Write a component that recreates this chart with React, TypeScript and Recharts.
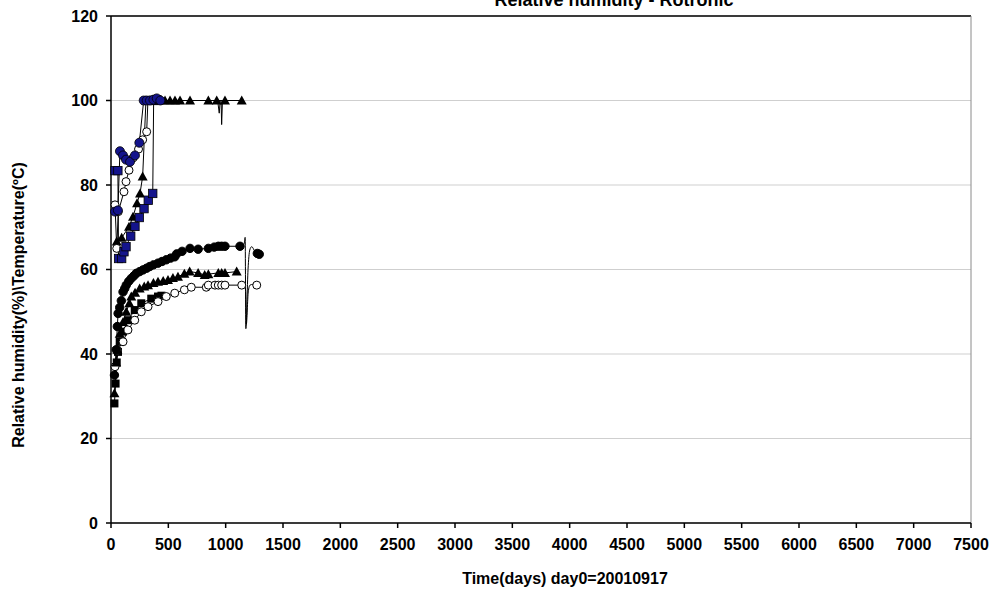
import { CartesianGrid, Line, LineChart, ReferenceLine, XAxis, YAxis } from 'recharts';

type Pt = [number, number];

const FONT = "'Liberation Sans', Arial, sans-serif";
const NAVY = '#14148c';

const X_TICKS = [0, 500, 1000, 1500, 2000, 2500, 3000, 3500, 4000, 4500, 5000, 5500, 6000, 6500, 7000, 7500];
const Y_TICKS = [0, 20, 40, 60, 80, 100, 120];

// relative humidity sensors (days, %)
const rhBlueSquare: Pt[] = [
  [35, 83.4], [60, 83.4], [66, 62.6], [93, 62.6], [113, 64.2], [131, 65.4], [172, 67.9],
  [209, 70.2], [247, 72.3], [288, 74.4], [325, 76.4], [364, 78], [372, 100], [400, 100.2],
];
const rhBlueCircle: Pt[] = [
  [35, 73.7], [60, 74], [78, 88], [105, 87], [131, 86], [166, 85.5], [209, 87], [247, 90],
  [285, 100], [311, 100], [340, 100], [370, 100.2], [399, 100.5], [430, 100],
];
const rhOpenCircle: Pt[] = [
  [35, 75.3], [50, 65], [64, 73.7], [113, 78.4], [131, 80.8], [157, 83.5], [192, 86.4],
  [240, 88.5], [276, 90.7], [311, 92.6], [322, 100], [350, 100], [400, 100],
];
const rhTriangle: Pt[] = [
  [50, 66.6], [93, 67.5], [157, 70.1], [192, 72.5], [227, 75.7], [253, 78], [276, 82],
  [305, 100], [340, 100], [375, 100], [427, 100], [471, 100], [515, 100], [558, 100],
  [602, 100], [689, 100], [849, 100], [922, 100], [994, 100], [1140, 100],
];
const rhTriangleDip: Pt[] = [[930, 100], [944, 97], [952, 100], [960, 100], [965, 94.3], [972, 100]];

// temperature sensors (days, degC)
const tCircle: Pt[] = [
  [30, 35], [45, 41], [55, 46.5], [62, 49.6], [76, 51], [90, 52.6], [105, 54.7], [120, 55.5],
  [133, 56.3], [155, 57.2], [177, 57.9], [200, 58.5], [221, 59.1], [250, 59.5], [279, 59.9],
  [310, 60.3], [338, 60.7], [370, 61.1], [410, 61.5], [445, 61.9], [482, 62.3], [520, 62.7],
  [556, 63], [573, 63.7], [620, 64.3], [689, 65], [760, 64.8], [849, 65], [900, 65.3],
  [936, 65.5], [965, 65.5], [994, 65.5], [1125, 65.5],
];
const tCircleTail: Pt[] = [
  [1125, 65.5], [1160, 66], [1170, 67.6], [1176, 46], [1195, 60], [1210, 64.6], [1227, 65.4],
  [1255, 64.3], [1276, 63.8], [1293, 63.6],
];
const tTriangle: Pt[] = [
  [30, 30.7], [45, 38], [55, 41], [76, 44.8], [105, 47.6], [133, 50], [160, 52], [177, 53.6],
  [210, 54.5], [250, 55.5], [290, 56], [323, 56.3], [370, 56.8], [410, 57.1], [455, 57.3],
  [497, 57.5], [540, 58], [584, 58.3], [640, 59], [686, 59.5], [760, 59.2], [817, 58.7],
  [849, 58.9], [936, 59.2], [965, 59.2], [994, 59.2], [1096, 59.5],
];
const tSquare: Pt[] = [
  [30, 28.3], [40, 33], [50, 38], [61, 40.5], [76, 42.9], [105, 45.3], [148, 48], [207, 50.4],
  [264, 52], [351, 53.1], [410, 53.6], [440, 53.8],
];
const tOpenCircle: Pt[] = [
  [35, 37], [55, 40.9], [105, 42.9], [148, 45.7], [207, 48], [264, 50], [323, 51.2], [410, 52.4],
  [482, 53.6], [556, 54.4], [640, 55.2], [700, 55.8], [831, 55.8], [849, 56.3], [907, 56.3],
  [936, 56.3], [965, 56.3], [994, 56.3], [1140, 56.3],
];
const tOpenCircleTail: Pt[] = [
  [1140, 56.3], [1165, 56], [1174, 55], [1180, 47], [1197, 54.7], [1212, 56.3], [1240, 56.5],
  [1271, 56.3],
];

const toRows = (pts: Pt[]) => pts.map(([d, v]) => ({ d, v }));

type Kind = 'circle' | 'open' | 'triangle' | 'square' | 'blueCircle' | 'blueSquare';

function marker(kind: Kind, cx: number, cy: number, key: string) {
  if (cx == null || cy == null) return <g key={key} />;
  switch (kind) {
    case 'circle':
      return <circle key={key} cx={cx} cy={cy} r={4.2} fill="#000" stroke="#000" />;
    case 'open':
      return <circle key={key} cx={cx} cy={cy} r={4} fill="#fff" stroke="#000" strokeWidth={1} />;
    case 'blueCircle':
      return <circle key={key} cx={cx} cy={cy} r={4.5} fill={NAVY} stroke="#000" strokeWidth={0.8} />;
    case 'triangle':
      return <path key={key} d={`M${cx},${cy - 5}L${cx + 5},${cy + 4}L${cx - 5},${cy + 4}Z`} fill="#000" />;
    case 'square':
      return <rect key={key} x={cx - 4} y={cy - 4} width={8} height={8} fill="#000" />;
    case 'blueSquare':
      return <rect key={key} x={cx - 4.2} y={cy - 4.2} width={8.4} height={8.4} fill={NAVY} stroke="#000" strokeWidth={0.8} />;
  }
}

function series(id: string, pts: Pt[], kind: Kind | null, markFrom = 0, curve: 'linear' | 'monotone' = 'linear') {
  return (
    <Line
      key={id}
      data={toRows(pts)}
      dataKey="v"
      type={curve}
      stroke="#000"
      strokeWidth={1}
      isAnimationActive={false}
      activeDot={false}
      dot={
        kind
          ? (p: any) => (p.index >= markFrom ? marker(kind, p.cx, p.cy, `${id}-${p.index}`) : <g key={`${id}-${p.index}`} />)
          : false
      }
    />
  );
}

export default function App() {
  const tickStyle = { fill: '#000', fontSize: 16, fontWeight: 700, fontFamily: FONT };
  return (
    <div style={{ position: 'relative', width: 997, height: 597, background: '#fff' }}>
      <style>{'body{margin:0}'}</style>
      <LineChart width={997} height={597} margin={{ top: 16, right: 26, bottom: 44, left: 0 }}>
        <CartesianGrid horizontal vertical={false} stroke="#cfcfcf" strokeWidth={1} />
        <XAxis
          dataKey="d"
          type="number"
          domain={[0, 7500]}
          ticks={X_TICKS}
          height={30}
          allowDuplicatedCategory={false}
          stroke="#000"
          strokeWidth={1.5}
          tickSize={5}
          tickMargin={11}
          tick={tickStyle}
          interval={0}
        />
        <YAxis
          type="number"
          domain={[0, 120]}
          ticks={Y_TICKS}
          width={111}
          stroke="#000"
          strokeWidth={1.5}
          tickSize={5}
          tickMargin={8}
          tick={tickStyle}
          interval={0}
        />
        <ReferenceLine y={120} stroke="#000" strokeWidth={1.5} />
        <ReferenceLine x={7500} stroke="#8a8a8a" strokeWidth={1} />
        {series('tSquare', tSquare, 'square')}
        {series('tOpenCircle', tOpenCircle, 'open')}
        {series('tOpenCircleTail', tOpenCircleTail, 'open', tOpenCircleTail.length - 1, 'monotone')}
        {series('tTriangle', tTriangle, 'triangle')}
        {series('tCircle', tCircle, 'circle')}
        {series('tCircleTail', tCircleTail, 'circle', tCircleTail.length - 2, 'monotone')}
        {series('rhTriangleDip', rhTriangleDip, null)}
        {series('rhTriangle', rhTriangle, 'triangle')}
        {series('rhOpenCircle', rhOpenCircle, 'open')}
        {series('rhBlueSquare', rhBlueSquare, 'blueSquare')}
        {series('rhBlueCircle', rhBlueCircle, 'blueCircle')}
      </LineChart>
      <svg
        width={997}
        height={597}
        style={{ position: 'absolute', left: 0, top: 0, pointerEvents: 'none' }}
        fontFamily={FONT}
        fontWeight={700}
      >
        <text x={614} y={6} textAnchor="middle" fontSize={18}>
          Relative humidity - Rotronic
        </text>
        <text x={565} y={584} textAnchor="middle" fontSize={16}>
          Time(days) day0=20010917
        </text>
        <text x={24} y={305} textAnchor="middle" fontSize={16} transform="rotate(-90 24 305)">
          Relative humidity(%)\Temperature(ºC)
        </text>
      </svg>
    </div>
  );
}
